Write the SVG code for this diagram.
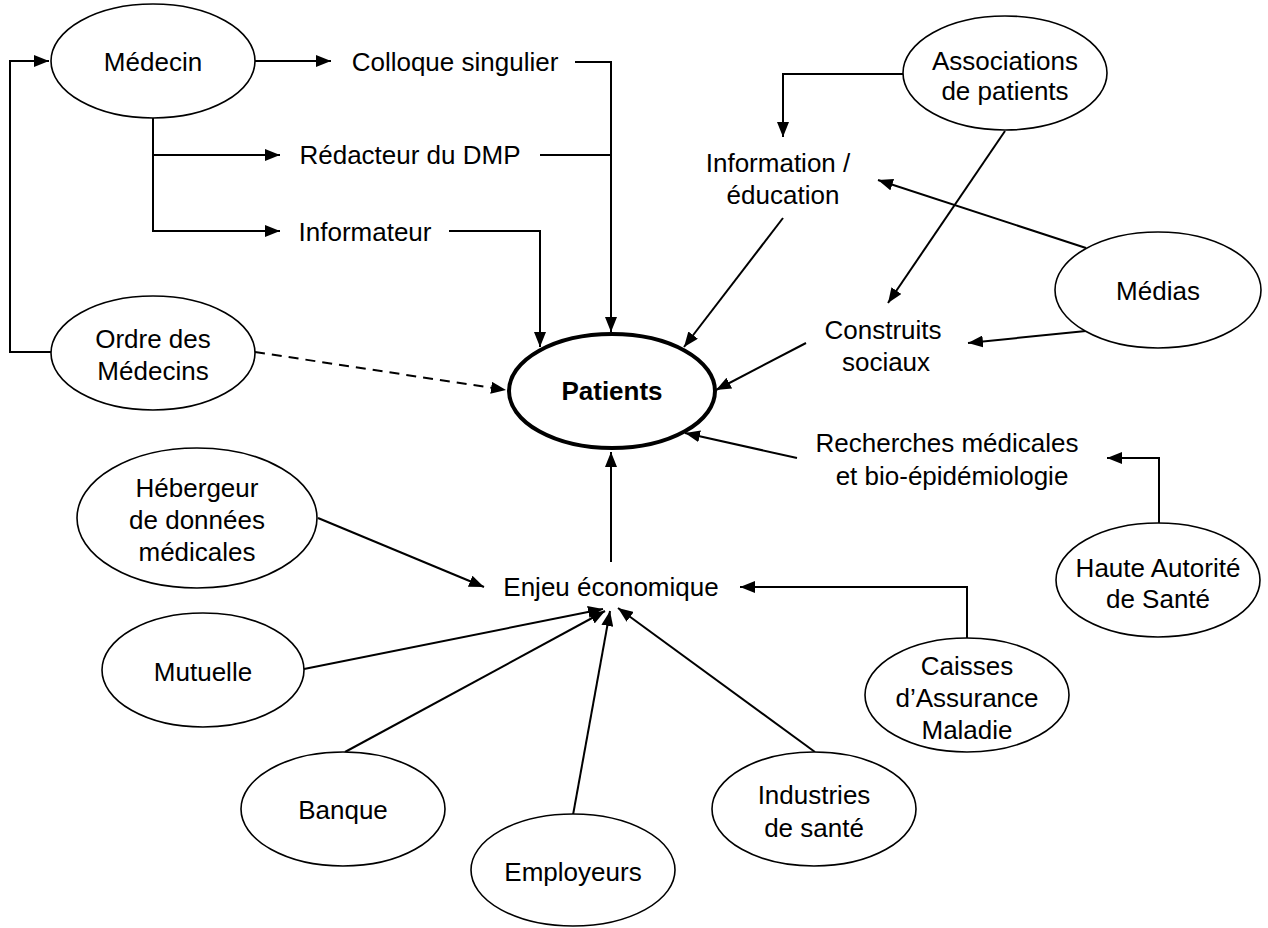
<svg xmlns="http://www.w3.org/2000/svg" width="1268" height="928" viewBox="0 0 1268 928">
<style>
text{font-family:"Liberation Sans",Arial,sans-serif;font-size:26px;fill:#000;text-anchor:middle}
.n{fill:#fff;stroke:#000;stroke-width:1.6}
.c{fill:none;stroke:#000;stroke-width:2}
.d{stroke-dasharray:10 7}
</style>
<defs>
<marker id="a" markerUnits="userSpaceOnUse" markerWidth="16" markerHeight="12" refX="15" refY="6" orient="auto">
<path d="M0,0 L15,6 L0,12 z" fill="#000"/>
</marker>
</defs>
<rect width="1268" height="928" fill="#fff"/>
<g id="connectors">
<path class="c" d="M51,352 H10 V61 H49" marker-end="url(#a)"/>
<path class="c" d="M255,61 L331,61" marker-end="url(#a)"/>
<path class="c" d="M153,118 V231 H280" marker-end="url(#a)"/>
<path class="c" d="M153,155 H280" marker-end="url(#a)"/>
<path class="c" d="M575,62 H611 V332" marker-end="url(#a)"/>
<path class="c" d="M540,155 H611"/>
<path class="c" d="M449,231 H540 V347" marker-end="url(#a)"/>
<path class="c d" d="M255,352 L506,390" marker-end="url(#a)"/>
<path class="c" d="M903,74 H783 V137" marker-end="url(#a)"/>
<path class="c" d="M783,218 L684,347" marker-end="url(#a)"/>
<path class="c" d="M1005,131 L888,303" marker-end="url(#a)"/>
<path class="c" d="M1086,248 L878,180" marker-end="url(#a)"/>
<path class="c" d="M1086,331 L968,343" marker-end="url(#a)"/>
<path class="c" d="M806,343 L716,390" marker-end="url(#a)"/>
<path class="c" d="M797,458 L685,433" marker-end="url(#a)"/>
<path class="c" d="M1159,523 V458 H1107" marker-end="url(#a)"/>
<path class="c" d="M611,562 V452" marker-end="url(#a)"/>
<path class="c" d="M318,518 L484,587" marker-end="url(#a)"/>
<path class="c" d="M967,638 V587 H740" marker-end="url(#a)"/>
<path class="c" d="M304,669 L603,609" marker-end="url(#a)"/>
<path class="c" d="M345,752 L605,611" marker-end="url(#a)"/>
<path class="c" d="M573,815 L610,611" marker-end="url(#a)"/>
<path class="c" d="M815,752 L618,608" marker-end="url(#a)"/>
</g>
<g id="medecin"><ellipse class="n" cx="153" cy="61" rx="102" ry="57"/><text x="153" y="71">Médecin</text></g>
<g id="colloque"><text x="455" y="71">Colloque singulier</text></g>
<g id="redacteur"><text x="410" y="164">Rédacteur du DMP</text></g>
<g id="informateur"><text x="365" y="241">Informateur</text></g>
<g id="ordre"><ellipse class="n" cx="153" cy="353" rx="102" ry="57"/><text x="153" y="348">Ordre des</text><text x="153" y="380">Médecins</text></g>
<g id="patients"><ellipse cx="612" cy="391" rx="103" ry="57" fill="#fff" stroke="#000" stroke-width="4"/><text x="612" y="400" font-weight="bold">Patients</text></g>
<g id="associations"><ellipse class="n" cx="1005" cy="73" rx="102" ry="57"/><text x="1005" y="70">Associations</text><text x="1005" y="100">de patients</text></g>
<g id="information"><text x="778" y="172">Information /</text><text x="783" y="204">éducation</text></g>
<g id="medias"><ellipse class="n" cx="1158" cy="290" rx="103" ry="58"/><text x="1158" y="300">Médias</text></g>
<g id="construits"><text x="883" y="339">Construits</text><text x="886" y="371">sociaux</text></g>
<g id="recherches"><text x="947" y="452">Recherches médicales</text><text x="952" y="485">et bio-épidémiologie</text></g>
<g id="haute"><ellipse class="n" cx="1158" cy="580" rx="102" ry="57"/><text x="1158" y="577">Haute Autorité</text><text x="1158" y="608">de Santé</text></g>
<g id="enjeu"><text x="611" y="596">Enjeu économique</text></g>
<g id="hebergeur"><ellipse class="n" cx="197" cy="518" rx="120" ry="70"/><text x="197" y="497">Hébergeur</text><text x="197" y="529">de données</text><text x="197" y="561">médicales</text></g>
<g id="caisses"><ellipse class="n" cx="967" cy="695" rx="102" ry="57"/><text x="967" y="675">Caisses</text><text x="967" y="707">d’Assurance</text><text x="967" y="739">Maladie</text></g>
<g id="mutuelle"><ellipse class="n" cx="203" cy="670" rx="101" ry="57"/><text x="203" y="681">Mutuelle</text></g>
<g id="banque"><ellipse class="n" cx="343" cy="809" rx="102" ry="57"/><text x="343" y="819">Banque</text></g>
<g id="employeurs"><ellipse class="n" cx="573" cy="870" rx="102" ry="56"/><text x="573" y="881">Employeurs</text></g>
<g id="industries"><ellipse class="n" cx="814" cy="809" rx="102" ry="57"/><text x="814" y="804">Industries</text><text x="814" y="837">de santé</text></g>
</svg>
